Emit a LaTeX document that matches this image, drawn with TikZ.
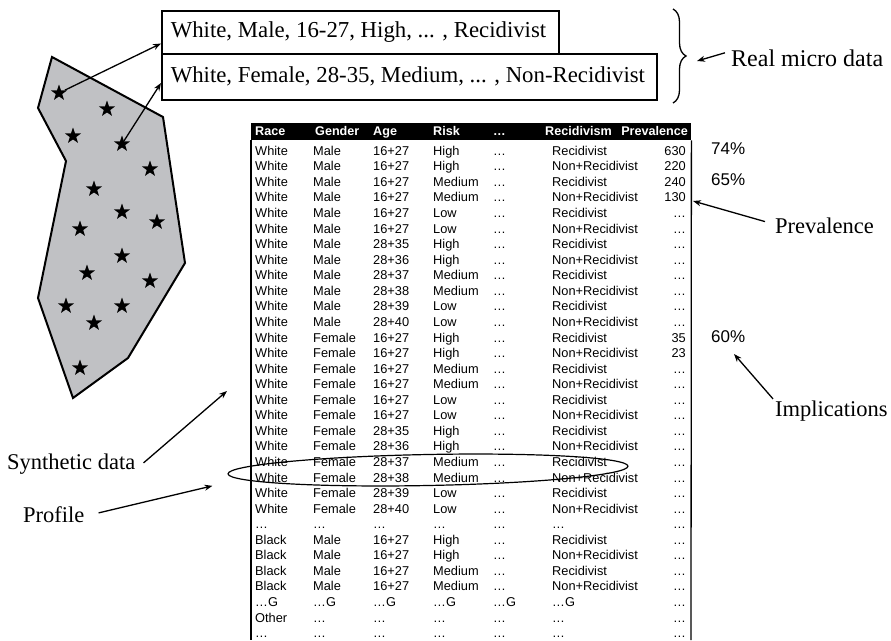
\documentclass[tikz,border=0pt]{standalone}
\usepackage{fontspec}
\setmainfont{Liberation Serif}
\newfontfamily\tabfont{Liberation Sans}
\usetikzlibrary{shapes.geometric,arrows.meta,decorations.pathreplacing,calc}
\definecolor{regiongray}{RGB}{192,193,196}

\begin{document}
\begin{tikzpicture}[x=1pt,y=-1pt,
  lbl/.style={font=\fontsize{22.5}{24}\selectfont, inner sep=0pt, anchor=base west},
  cell/.style={font=\tabfont\fontsize{12.8}{13}\selectfont, inner sep=0pt, anchor=base west},
  hcell/.style={cell, font=\tabfont\bfseries\fontsize{12.6}{13}\selectfont, text=white},
  numcell/.style={cell, anchor=base east},
  pct/.style={font=\tabfont\fontsize{17}{18}\selectfont, inner sep=0pt, anchor=base west},
  starmark/.style={star, star points=5, star point ratio=2.5, fill=black, inner sep=0pt, minimum size=17pt},
  ptr/.style={-{Stealth[length=8pt,width=6pt]}, line width=1.3pt},
  recbox/.style={draw, line width=1.5pt, anchor=north west, inner xsep=9pt, inner ysep=0pt,
    font=\fontsize{22.8}{24}\selectfont}]

\useasboundingbox (0,0) rectangle (891,640);

% synthetic population region
\draw[fill=regiongray, line width=2pt, line join=miter]
  (52,57) -- (163,117) -- (185,263) -- (128,358) -- (73,398) -- (38,298) -- (66,161) -- (38,108) -- cycle;

% individuals
\foreach \sx/\sy [count=\i] in {59/93, 107/109, 73/136, 122/144, 150/169, 94/189, 122/212, 157/222,
    80/229, 122/256, 87/273, 150/281, 66/306, 122/306, 94/323, 80/368}
  \node[starmark] (star\i) at (\sx,\sy) {};

% real micro data records
\node[recbox, minimum height=43pt] (real1) at (161,10) {\makebox[379pt][l]{White, Male, 16-27, High, ... , Recidivist}};
\node[recbox, minimum height=46pt] (real2) at (161,53) {\makebox[477pt][l]{White, Female, 28-35, Medium, ... , Non-Recidivist}};

\draw[ptr] (star1) -- ($(real1.south west)+(0,-11)$);
\draw[ptr] (star4) -- ($(real2.north west)+(0,30)$);

% brace and its label
\draw[line width=1.3pt, decorate, decoration={brace, amplitude=13pt}] (673,9) -- (673,103);
\coordinate (bracetip) at (697,61);
\node[lbl, font=\fontsize{24}{26}\selectfont] (realdata) at (731,66) {Real micro data};
\draw[ptr] ($(realdata.west)+(-6,-5)$) -- (bracetip);

% table header
\node[fill=black, minimum width=440pt, minimum height=17pt, inner sep=0pt, anchor=north west] (hdr) at (251,123) {};
\node[hcell] (h1) at (255,135.5) {Race};
\node[hcell] (h2) at (315,135.5) {Gender};
\node[hcell] (h3) at (373,135.5) {Age};
\node[hcell] (h4) at (433,135.5) {Risk};
\node[hcell] (h5) at (493,135.5) {…};
\node[hcell] (h6) at (545,135.5) {Recidivism};
\node[hcell, anchor=base east] (h7) at (688,135.5) {Prevalence};

% table frame
\draw[line width=1.3pt] (hdr.south west) -- (251,640);
\draw[line width=1.3pt] (hdr.south east) -- (691,640);

% table body
\foreach \k/\colA/\colB/\colC/\colD/\colE/\colF/\colG in {
  1/White/Male/16+27/High/…/Recidivist/630,
  2/White/Male/16+27/High/…/Non+Recidivist/220,
  3/White/Male/16+27/Medium/…/Recidivist/240,
  4/White/Male/16+27/Medium/…/Non+Recidivist/130,
  5/White/Male/16+27/Low/…/Recidivist/…,
  6/White/Male/16+27/Low/…/Non+Recidivist/…,
  7/White/Male/28+35/High/…/Recidivist/…,
  8/White/Male/28+36/High/…/Non+Recidivist/…,
  9/White/Male/28+37/Medium/…/Recidivist/…,
  10/White/Male/28+38/Medium/…/Non+Recidivist/…,
  11/White/Male/28+39/Low/…/Recidivist/…,
  12/White/Male/28+40/Low/…/Non+Recidivist/…,
  13/White/Female/16+27/High/…/Recidivist/35,
  14/White/Female/16+27/High/…/Non+Recidivist/23,
  15/White/Female/16+27/Medium/…/Recidivist/…,
  16/White/Female/16+27/Medium/…/Non+Recidivist/…,
  17/White/Female/16+27/Low/…/Recidivist/…,
  18/White/Female/16+27/Low/…/Non+Recidivist/…,
  19/White/Female/28+35/High/…/Recidivist/…,
  20/White/Female/28+36/High/…/Non+Recidivist/…,
  21/White/Female/28+37/Medium/…/Recidivist/…,
  22/White/Female/28+38/Medium/…/Non+Recidivist/…,
  23/White/Female/28+39/Low/…/Recidivist/…,
  24/White/Female/28+40/Low/…/Non+Recidivist/…,
  25/…/…/…/…/…/…/…,
  26/Black/Male/16+27/High/…/Recidivist/…,
  27/Black/Male/16+27/High/…/Non+Recidivist/…,
  28/Black/Male/16+27/Medium/…/Recidivist/…,
  29/Black/Male/16+27/Medium/…/Non+Recidivist/…,
  30/…G/…G/…G/…G/…G/…G/…,
  31/Other/…/…/…/…/…/…,
  32/…/…/…/…/…/…/…}{
  \pgfmathsetmacro\yb{155.3+15.56*(\k-1)}
  \node[cell] (r\k-1) at (255,\yb) {\colA};
  \node[cell] (r\k-2) at (313,\yb) {\colB};
  \node[cell] (r\k-3) at (373,\yb) {\colC};
  \node[cell] (r\k-4) at (433,\yb) {\colD};
  \node[cell] (r\k-5) at (493,\yb) {\colE};
  \node[cell] (r\k-6) at (552,\yb) {\colF};
  \node[numcell] (r\k-7) at (686,\yb) {\colG};
}

% implication shares
\node[pct] (p74) at (711,154) {74\%};
\node[pct] (p65) at (711,185.7) {65\%};
\node[pct] (p60) at (711,342.7) {60\%};

% annotations on the right
\node[lbl] (prevlbl) at (775,233.3) {Prevalence};
\coordinate (prevtip) at (693,201);
\draw[ptr] ($(prevlbl.west)+(-10,-4)$) -- (prevtip);

\node[lbl] (impllbl) at (775,416.7) {Implications};
\coordinate (impltip) at (734,354);
\draw[ptr] ($(impllbl.north west)+(-2,-2)$) -- (impltip);

% profile ring
\node[draw, ellipse, line width=1.2pt, minimum width=400pt, minimum height=31pt, inner sep=0pt, rotate=1.1] (ring) at (428,470) {};

% annotations on the left
\node[lbl] (synthlbl) at (7,469.3) {Synthetic data};
\coordinate (synthtip) at (227,391);
\draw[ptr] ($(synthlbl.east)+(8,-1)$) -- (synthtip);

\node[lbl] (proflbl) at (23,522.7) {Profile};
\draw[ptr] ($(proflbl.east)+(14,-2)$) -- ($(ring.west)+(-15,12)$);

\end{tikzpicture}
\end{document}
